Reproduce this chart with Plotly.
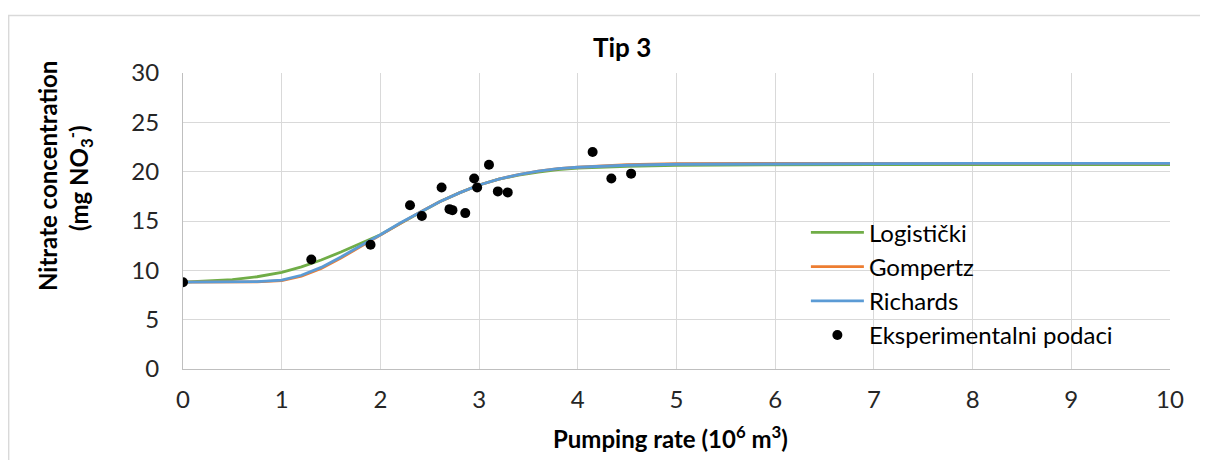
import plotly.graph_objects as go

# ---- data ----
x_exp = [0, 1.30, 1.90, 2.30, 2.42, 2.62, 2.70, 2.73, 2.86, 2.95, 2.98, 3.10, 3.19, 3.29, 4.15, 4.34, 4.54]
y_exp = [8.8, 11.1, 12.6, 16.6, 15.5, 18.4, 16.2, 16.1, 15.8, 19.3, 18.4, 20.7, 18.0, 17.9, 22.0, 19.3, 19.8]

x_fit = [0, 0.25, 0.5, 0.75, 1.0, 1.2, 1.4, 1.6, 1.8, 2.0, 2.2, 2.4, 2.6, 2.8, 3.0, 3.2, 3.4, 3.6, 3.8, 4.0, 4.5, 5.0, 6.0, 7.0, 8.0, 9.0, 10.0]
y_logisticki = [8.8, 8.9, 9.05, 9.35, 9.8, 10.35, 11.05, 11.85, 12.7, 13.6, 14.75, 15.85, 16.95, 17.85, 18.65, 19.25, 19.65, 19.95, 20.2, 20.35, 20.55, 20.65, 20.72, 20.72, 20.72, 20.72, 20.72]
y_gompertz = [8.8, 8.8, 8.81, 8.84, 8.95, 9.4, 10.2, 11.25, 12.4, 13.55, 14.75, 15.9, 16.95, 17.85, 18.65, 19.25, 19.7, 20.05, 20.3, 20.45, 20.7, 20.8, 20.85, 20.85, 20.85, 20.85, 20.85]
y_richards = [8.8, 8.8, 8.82, 8.86, 9.0, 9.5, 10.3, 11.35, 12.5, 13.6, 14.8, 15.9, 16.95, 17.85, 18.65, 19.25, 19.7, 20.05, 20.3, 20.45, 20.65, 20.75, 20.8, 20.82, 20.84, 20.84, 20.84]

x_ticks = [0, 1, 2, 3, 4, 5, 6, 7, 8, 9, 10]
y_ticks = [0, 5, 10, 15, 20, 25, 30]

FONT = "Lato"
TXT = "#262626"

# the page body adds an 8 px offset; figure is sized to fit the window
OFF = 8
W, H = 1200, 452
# plot area in screenshot pixels
SL, SR, ST, SB = 183.3, 1170, 72.6, 368.7
L, R, T, B = SL - OFF, SR - OFF, ST - OFF, SB - OFF


def px(s):
    return (s - OFF - L) / (R - L)


def py(s):
    return (B - (s - OFF)) / (B - T)


fig = go.Figure()
fig.add_trace(go.Scatter(x=x_fit, y=y_logisticki, mode="lines", name="Logistički",
                         line=dict(color="#70ad47", width=2.8), legendgroup="a"))
fig.add_trace(go.Scatter(x=x_fit, y=y_gompertz, mode="lines", name="Gompertz",
                         line=dict(color="#ed7d31", width=2.8), legendgroup="b"))
fig.add_trace(go.Scatter(x=x_fit, y=y_richards, mode="lines", name="Richards",
                         line=dict(color="#5b9bd5", width=2.8), legendgroup="c"))
fig.add_trace(go.Scatter(x=x_exp, y=y_exp, mode="markers", name="Eksperimentalni podaci",
                         marker=dict(color="black", size=10), legendgroup="d"))

fig.update_layout(
    width=W, height=H,
    margin=dict(l=L, r=W - R, t=T, b=H - B, pad=0),
    paper_bgcolor="white", plot_bgcolor="white",
    font=dict(family=FONT, size=24, color=TXT),
    showlegend=True,
    legend=dict(x=px(806), y=py(210), xanchor="left", yanchor="top",
                bgcolor="rgba(0,0,0,0)", font=dict(size=24, color="black"),
                tracegroupgap=0, itemwidth=53),
    xaxis=dict(range=[0, 10], tickvals=x_ticks, showgrid=True, gridcolor="#d9d9d9", gridwidth=1,
               showline=True, linecolor="#bfbfbf", linewidth=1, zeroline=False,
               ticks="", ticklabelstandoff=9, tickfont=dict(size=24, color=TXT)),
    yaxis=dict(range=[0, 30], tickvals=y_ticks, showgrid=True, gridcolor="#d9d9d9", gridwidth=1,
               showline=True, linecolor="#bfbfbf", linewidth=1, zeroline=False,
               ticks="", ticklabelstandoff=18, tickfont=dict(size=24, color=TXT)),
    annotations=[
        dict(text="<b>Tip 3</b>", xref="paper", yref="paper", x=px(622), y=py(47),
             xanchor="center", yanchor="middle", showarrow=False,
             font=dict(size=26, color="black", family=FONT)),
        dict(text="<b>Pumping rate (10<sup>6</sup> m<sup>3</sup>)</b>", xref="paper", yref="paper",
             x=px(671), y=py(437), xanchor="center", yanchor="middle", showarrow=False,
             font=dict(size=24, color="black", family=FONT)),
        dict(text="<b>Nitrate concentration</b>", xref="paper", yref="paper",
             x=px(48), y=py(176), xanchor="center", yanchor="middle", textangle=-90,
             showarrow=False, font=dict(size=24, color="black", family=FONT)),
        dict(text="<b>(mg NO<sub>3</sub><sup>-</sup>)</b>", xref="paper", yref="paper",
             x=px(80), y=py(178), xanchor="center", yanchor="middle", textangle=-90,
             showarrow=False, font=dict(size=24, color="black", family=FONT)),
    ],
    shapes=[
        dict(type="rect", xref="paper", yref="paper", x0=px(9), y0=py(15), x1=px(1260), y1=py(520),
             line=dict(color="#d9d9d9", width=1.5), fillcolor="rgba(0,0,0,0)", layer="below"),
    ],
)

fig.write_html("out.html")
